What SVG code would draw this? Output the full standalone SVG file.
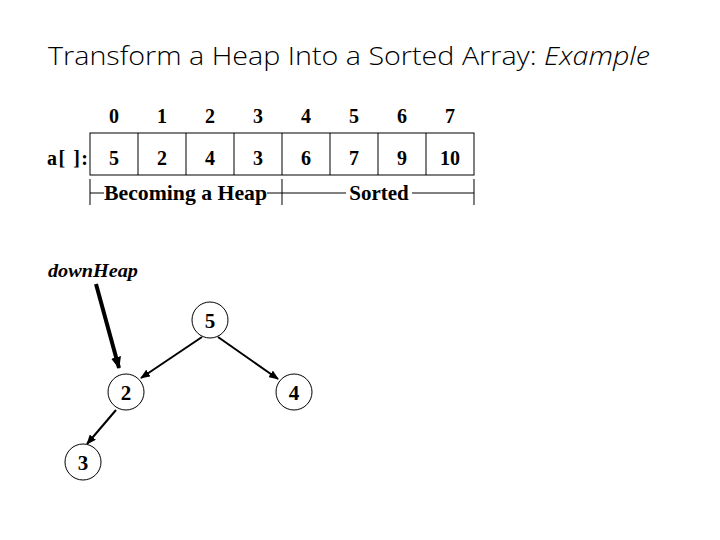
<svg xmlns="http://www.w3.org/2000/svg" width="720" height="540" viewBox="0 0 720 540">
<style>
.t{font-family:"Liberation Serif","Times New Roman",serif;font-weight:bold;fill:#000}
.c{fill:#fff;stroke:#000;stroke-width:1}
.e{stroke:#000;stroke-width:2;fill:none}
</style>
<defs>
<marker id="ah" markerWidth="10" markerHeight="8" refX="9" refY="4" orient="auto" markerUnits="userSpaceOnUse">
<path d="M0,0 L10,4 L0,8 Z" fill="#000"/>
</marker>
<marker id="ah2" markerWidth="12" markerHeight="10" refX="11" refY="5" orient="auto" markerUnits="userSpaceOnUse">
<path d="M0,0 L12,5 L0,10 Z" fill="#000"/>
</marker>
</defs>
<rect width="720" height="540" fill="#fff"/>
<text x="48" y="65" font-family="'Open Sans','Noto Sans',sans-serif" font-weight="300" font-size="26" textLength="602" lengthAdjust="spacingAndGlyphs" fill="#000">Transform a Heap Into a Sorted Array: <tspan font-style="italic">Example</tspan></text>
<g id="array">
<g class="t" font-size="20" text-anchor="middle">
<text x="114" y="123">0</text><text x="162" y="123">1</text><text x="210" y="123">2</text><text x="258" y="123">3</text>
<text x="306" y="123">4</text><text x="354" y="123">5</text><text x="402" y="123">6</text><text x="450" y="123">7</text>
</g>
<text class="t" x="47" y="165" font-size="20" textLength="41" lengthAdjust="spacing">a[ ]:</text>
<rect x="90" y="133" width="384" height="42" fill="none" stroke="#000" stroke-width="1"/>
<g stroke="#000" stroke-width="1">
<line x1="138" y1="133" x2="138" y2="175"/><line x1="186" y1="133" x2="186" y2="175"/><line x1="234" y1="133" x2="234" y2="175"/>
<line x1="282" y1="133" x2="282" y2="175"/><line x1="330" y1="133" x2="330" y2="175"/><line x1="378" y1="133" x2="378" y2="175"/>
<line x1="426" y1="133" x2="426" y2="175"/>
</g>
<g class="t" font-size="20" text-anchor="middle">
<text x="114" y="165">5</text><text x="162" y="165">2</text><text x="210" y="165">4</text><text x="258" y="165">3</text>
<text x="306" y="165">6</text><text x="354" y="165">7</text><text x="402" y="165">9</text><text x="450" y="165">10</text>
</g>
<g stroke="#000" stroke-width="1">
<line x1="90" y1="179" x2="90" y2="205"/><line x1="282" y1="179" x2="282" y2="205"/><line x1="474" y1="179" x2="474" y2="205"/>
<line x1="90" y1="193" x2="104" y2="193"/><line x1="267" y1="193" x2="282" y2="193"/>
<line x1="282" y1="193" x2="346" y2="193"/><line x1="412" y1="193" x2="474" y2="193"/>
</g>
<text class="t" x="185.5" y="200" font-size="21" text-anchor="middle" textLength="163" lengthAdjust="spacingAndGlyphs">Becoming a Heap</text>
<text class="t" x="379" y="200" font-size="21" text-anchor="middle">Sorted</text>
</g>
<g id="label-downheap">
<text class="t" x="48" y="277" font-size="19" font-style="italic" textLength="90" lengthAdjust="spacingAndGlyphs">downHeap</text>
</g>
<g id="connectors">
<line x1="96" y1="284" x2="119" y2="368" stroke="#000" stroke-width="4" marker-end="url(#ah2)"/>
<line x1="202" y1="337" x2="141" y2="378" class="e" marker-end="url(#ah)"/>
<line x1="218" y1="337" x2="278" y2="379" class="e" marker-end="url(#ah)"/>
<line x1="116" y1="410" x2="87" y2="444" class="e" marker-end="url(#ah)"/>
</g>
<g id="node-5"><circle class="c" cx="210" cy="320" r="18"/><text class="t" x="210" y="328" font-size="21" text-anchor="middle">5</text></g>
<g id="node-2"><circle class="c" cx="126" cy="392" r="18"/><text class="t" x="126" y="400" font-size="21" text-anchor="middle">2</text></g>
<g id="node-4"><circle class="c" cx="294" cy="392" r="18"/><text class="t" x="294" y="400" font-size="21" text-anchor="middle">4</text></g>
<g id="node-3"><circle class="c" cx="83" cy="462" r="18"/><text class="t" x="83" y="470" font-size="21" text-anchor="middle">3</text></g>
</svg>
